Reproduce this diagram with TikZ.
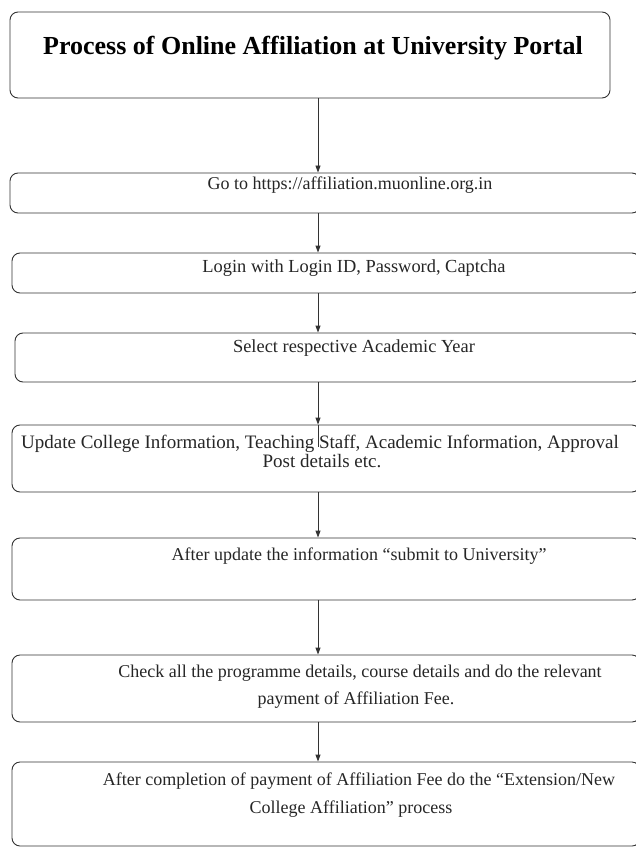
\documentclass[tikz,border=0pt]{standalone}
\usepackage{fontspec}
\setmainfont{Liberation Serif}
\usetikzlibrary{arrows.meta}
\begin{document}
\begin{tikzpicture}[x=1pt,y=-1pt,
  box/.style={draw=black!80, line width=0.9pt, rounded corners=8pt, inner sep=0pt},
  txt/.style={inner sep=0pt, text=black!85, font=\fontsize{18}{20}\selectfont},
  arr/.style={draw=black!80, line width=0.9pt, -{Triangle[length=7pt,width=5pt]}}]
\clip (0,0) rectangle (636,853);
\fill[white] (0,0) rectangle (636,853);
\coordinate (ax) at (318,0);
% boxes
\node[box, minimum width=600pt, minimum height=86pt] (b1) at (310,55) {};
\node[box, minimum width=630pt, minimum height=40pt] (b2) at (325,193) {};
\node[box, minimum width=628pt, minimum height=40pt] (b3) at (326,273) {};
\node[box, minimum width=625pt, minimum height=49pt] (b4) at (327.5,357.5) {};
\node[box, minimum width=628pt, minimum height=67pt] (b5) at (326,458.5) {};
\node[box, minimum width=628pt, minimum height=62pt] (b6) at (326,569) {};
\node[box, minimum width=628pt, minimum height=67pt] (b7) at (326,688.5) {};
\node[box, minimum width=628pt, minimum height=84pt] (b8) at (326,804) {};
% texts
\node[txt, font=\bfseries\fontsize{26}{28}\selectfont, text=black] (t1) at (313,48) {Process of Online Affiliation at University Portal};
\node[txt] (t2) at (350,185) {Go to https://affiliation.muonline.org.in};
\node[txt, font=\fontsize{18.4}{20}\selectfont] (t3) at (354,268) {Login with Login ID, Password, Captcha};
\node[txt, font=\fontsize{18.4}{20}\selectfont] (t4) at (354,348) {Select respective Academic Year};
\node[txt, font=\fontsize{19}{21}\selectfont] (t5a) at (320,444) {Update College Information, Teaching Staff, Academic Information, Approval};
\node[txt, font=\fontsize{19}{21}\selectfont] (t5b) at (322,461) {Post details etc.};
\node[txt] (t6) at (359,556) {After update the information ``submit to University''};
\node[txt] (t7a) at (360,673) {Check all the programme details, course details and do the relevant};
\node[txt] (t7b) at (356,700) {payment of Affiliation Fee.};
\node[txt] (t8a) at (359,781) {After completion of payment of Affiliation Fee do the ``Extension/New};
\node[txt] (t8b) at (351,809) {College Affiliation'' process};
% connectors
\draw[arr] (b1.south -| ax) -- (b2.north -| ax);
\draw[arr] (b2.south -| ax) -- (b3.north -| ax);
\draw[arr] (b3.south -| ax) -- (b4.north -| ax);
\draw[arr] (b4.south -| ax) -- (b5.north -| ax);
\draw[draw=black!80, line width=0.9pt] (b5.north -| ax) -- ++(0,22);
\draw[arr] (b5.south -| ax) -- (b6.north -| ax);
\draw[arr] (b6.south -| ax) -- (b7.north -| ax);
\draw[arr] (b7.south -| ax) -- (b8.north -| ax);
\end{tikzpicture}
\end{document}
